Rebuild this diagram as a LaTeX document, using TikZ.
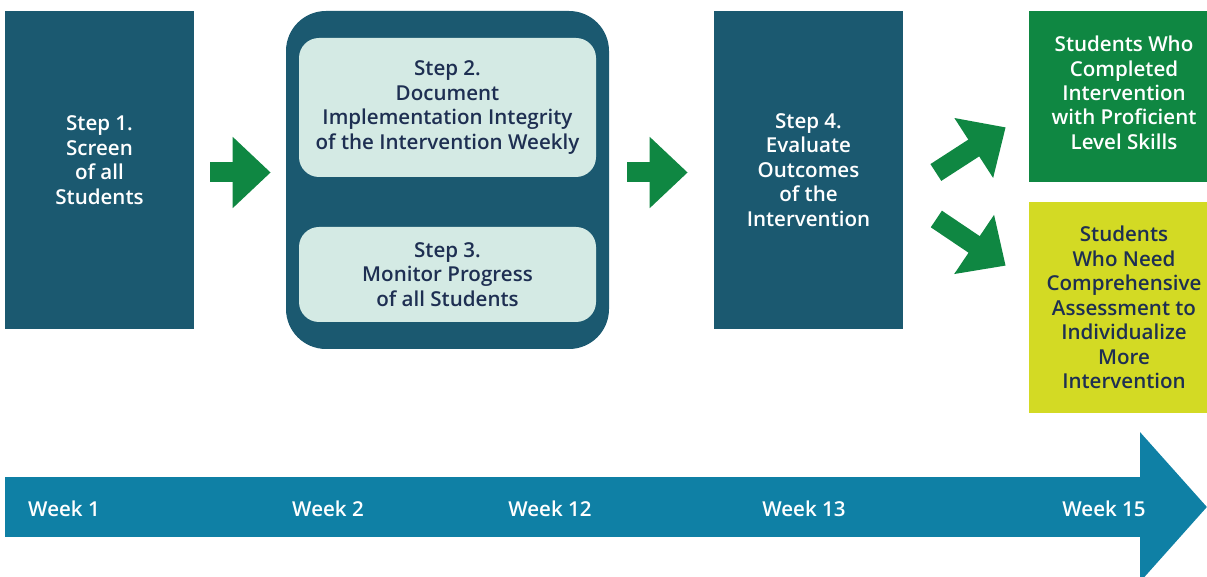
\documentclass[tikz,border=0pt]{standalone}
\usepackage{fontspec}
\setmainfont{Open Sans}[BoldFont={Open Sans Semibold}]
\usetikzlibrary{positioning, arrows.meta, calc}
\definecolor{stepCol}{HTML}{1B5970}
\definecolor{innerCol}{HTML}{D4EAE4}
\definecolor{inkCol}{HTML}{1E2F52}
\definecolor{arrowCol}{HTML}{0F8742}
\definecolor{passCol}{HTML}{0F8742}
\definecolor{needCol}{HTML}{D3DA24}
\definecolor{timeCol}{HTML}{0F80A5}

\begin{document}
\begin{tikzpicture}[
    % Node styles
    stepblock/.style={
        rectangle,
        fill=stepCol,
        text=white,
        font=\bfseries\fontsize{11.7}{13.9}\selectfont,
        minimum width=3.78cm,
        minimum height=6.36cm,
        inner sep=0pt,
        align=center
    },
    groupblock/.style={
        rectangle,
        rounded corners=0.8cm,
        fill=stepCol,
        minimum width=6.46cm,
        minimum height=6.76cm,
        inner sep=0pt
    },
    innerblock/.style={
        rectangle,
        rounded corners=0.4cm,
        fill=innerCol,
        text=inkCol,
        font=\bfseries\fontsize{11.7}{13.9}\selectfont,
        minimum width=5.94cm,
        inner sep=0pt,
        align=center
    },
    outcome/.style={
        rectangle,
        fill=#1,
        font=\bfseries\fontsize{11.7}{13.9}\selectfont,
        minimum width=3.8cm,
        inner sep=0pt,
        align=center
    },
    bigarrow/.style={
        -{Triangle[length=0.76cm, width=1.38cm]},
        line width=0.4cm,
        draw=arrowCol
    },
    timearrow/.style={
        -{Triangle[length=1.34cm, width=2.92cm]},
        line width=1.2cm,
        draw=timeCol
    },
    weeklabel/.style={
        text=white,
        font=\bfseries\fontsize{11.7}{13.9}\selectfont
    }
]
    \useasboundingbox (0, 0) rectangle (24.14, 11.52);

    % ==== STEP 1 ====
    \node[stepblock, text depth=0.4cm] (step1) at (1.99, 8.12) {Step 1.\\Screen\\of all\\Students};

    % ==== STEPS 2 AND 3 ====
    \node[groupblock] (group) at (8.95, 7.92) {};
    \node[innerblock, minimum height=2.78cm] (step2) at (8.95, 9.37) {Step 2.\\Document\\Implementation Integrity\\of the Intervention Weekly};
    \node[innerblock, minimum height=1.9cm] (step3) at (8.95, 6.03) {Step 3.\\Monitor Progress\\of all Students};

    % ==== STEP 4 ====
    \node[stepblock] (step4) at (16.17, 8.12) {Step 4.\\Evaluate\\Outcomes\\of the\\Intervention};

    % ==== OUTCOMES ====
    % boxes run past the right edge, so the text sits right of centre
    \node[outcome=passCol, text=white, minimum height=3.42cm, text depth=0.15cm] (pass) at (22.48, 9.59) {Students Who\\Completed\\Intervention\\with Proficient\\Level Skills};
    \node[outcome=needCol, text=inkCol, minimum height=4.22cm] (need) at (22.48, 5.37) {Students\\Who Need\\Comprehensive\\Assessment to\\Individualize\\More\\Intervention};

    % Arrows between steps
    \draw[bigarrow, shorten <=0.32cm, shorten >=0.3cm] ([yshift=-0.05cm]step1.east) -- ([yshift=-0.05cm]step1.east -| group.west);
    \draw[bigarrow, shorten <=0.36cm, shorten >=0.52cm] ([yshift=-0.05cm]step4.west -| group.east) -- ([yshift=-0.05cm]step4.west);

    % Arrows to outcomes
    \coordinate (upTail) at ($(step4.east)+(0.65, -0.05)$);
    \coordinate (upTip) at ($(pass.south west)+(-0.46, 1.10)$);
    \coordinate (downTail) at ($(step4.east)+(0.66, -0.98)$);
    \coordinate (downTip) at ($(need.north west)+(-0.46, -1.28)$);
    \draw[bigarrow] (upTail) -- (upTip);
    \draw[bigarrow] (downTail) -- (downTip);

    % ==== TIMELINE ====
    \coordinate (timeStart) at (0.1, 1.38);
    \coordinate (timeEnd) at (24.14, 1.38);
    \draw[timearrow] (timeStart) -- (timeEnd);
    \node[weeklabel] (week1) at (1.28, 1.34) {Week 1};
    \node[weeklabel] (week2) at (6.56, 1.34) {Week 2};
    \node[weeklabel] (week12) at (11.0, 1.34) {Week 12};
    \node[weeklabel] (week13) at (16.08, 1.34) {Week 13};
    \node[weeklabel] (week15) at (22.08, 1.34) {Week 15};

\end{tikzpicture}
\end{document}
